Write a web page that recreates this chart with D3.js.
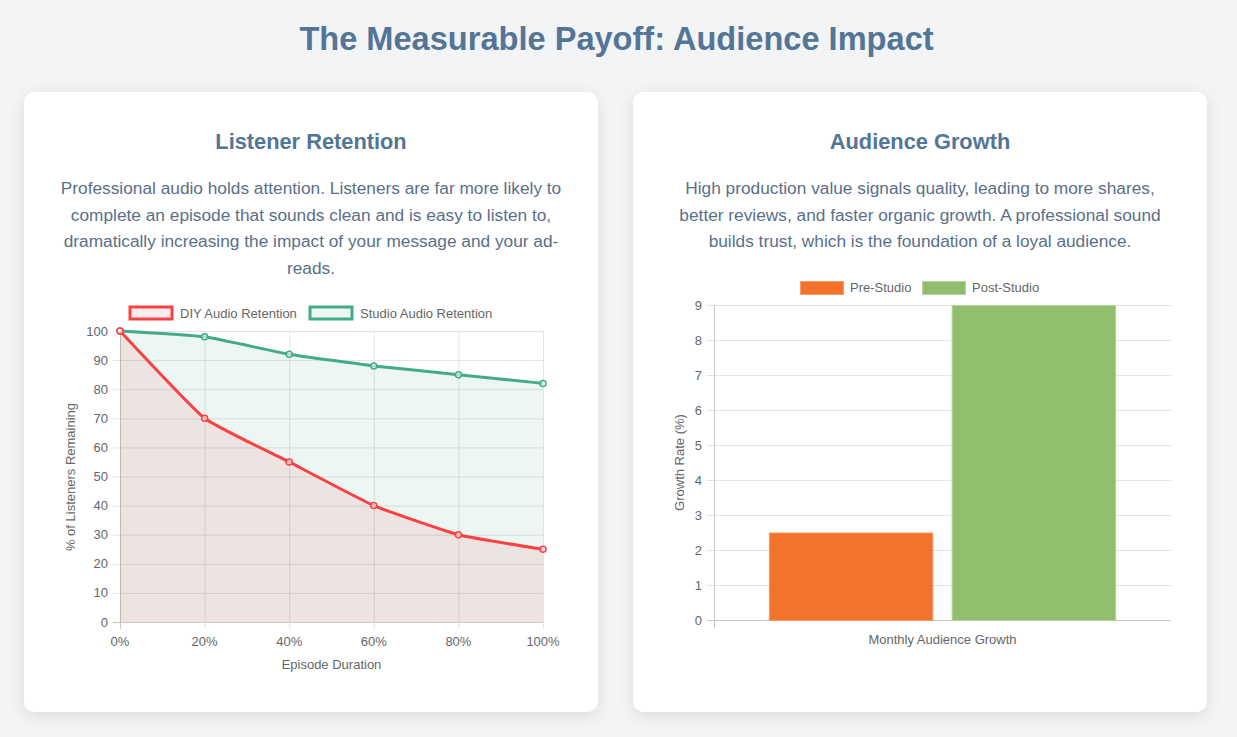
<!DOCTYPE html>
<html>
<head>
<meta charset="utf-8">
<script src="https://cdn.jsdelivr.net/npm/d3@7"></script>
<style>
  html, body { margin:0; padding:0; }
  body { width:1237px; height:737px; background:#f3f4f6; font-family:"Liberation Sans", Arial, Helvetica, sans-serif; position:relative; overflow:hidden; }
  h1 { position:absolute; left:0; width:1233px; top:20px; margin:0; text-align:center; font-size:32.6px; font-weight:bold; color:#537596; }
  .card { position:absolute; top:92px; width:574px; height:620px; background:#fff; border-radius:10px; box-shadow:0 4px 16px rgba(0,0,0,0.10); }
  .card h2 { position:absolute; left:0; width:100%; top:37px; margin:0; text-align:center; font-size:21.8px; font-weight:bold; color:#537596; }
  .card p { position:absolute; left:30px; width:514px; top:83px; margin:0; text-align:center; font-size:17.3px; line-height:26.5px; color:#5a7089; }
  svg#chart { position:absolute; left:0; top:0; }
</style>
</head>
<body>
<h1>The Measurable Payoff: Audience Impact</h1>
<div class="card" style="left:24px;">
  <h2>Listener Retention</h2>
  <p>Professional audio holds attention. Listeners are far more likely to complete an episode that sounds clean and is easy to listen to, dramatically increasing the impact of your message and your ad-reads.</p>
</div>
<div class="card" style="left:633px;">
  <h2>Audience Growth</h2>
  <p>High production value signals quality, leading to more shares, better reviews, and faster organic growth. A professional sound builds trust, which is the foundation of a loyal audience.</p>
</div>
<svg id="chart" width="1237" height="737"></svg>
<script>
// ---- data ----
const retentionLabels = ["0%", "20%", "40%", "60%", "80%", "100%"];
const diyRetention = [100, 70, 55, 40, 30, 25];
const studioRetention = [100, 98, 92, 88, 85, 82];
const retentionTicks = [0, 10, 20, 30, 40, 50, 60, 70, 80, 90, 100];
const retentionSeries = ["DIY Audio Retention", "Studio Audio Retention"];

const growthCategories = ["Monthly Audience Growth"];
const growthSeries = ["Pre-Studio", "Post-Studio"];
const growthValues = [2.5, 9];
const growthTicks = [0, 1, 2, 3, 4, 5, 6, 7, 8, 9];

// ---- styles ----
const RED = "#f94144", GREEN = "#43aa8b";
const ORANGE = "#f3722c", LGREEN = "#90be6d";
const tickColor = "#666", gridColor = "#e4e4e4", axisColor = "#c8c8c8";
const svg = d3.select("#chart");
const FONT = "Liberation Sans, Arial, Helvetica, sans-serif";
const FS = 13;

// ===== Line chart =====
{
  const x = d3.scalePoint().domain(retentionLabels).range([120, 543]);
  const y = d3.scaleLinear().domain([0, 100]).range([622, 331]);
  const g = svg.append("g");

  g.selectAll(".hg").data(retentionTicks).join("line")
    .attr("x1", 113).attr("x2", 543).attr("y1", d => y(d) + 0.5).attr("y2", d => y(d) + 0.5)
    .attr("stroke", d => d === 0 ? axisColor : gridColor).attr("stroke-width", 1);
  g.selectAll(".vg").data(retentionLabels).join("line")
    .attr("x1", d => x(d) + 0.5).attr("x2", d => x(d) + 0.5).attr("y1", 331).attr("y2", 629)
    .attr("stroke", (d, i) => i === 0 ? axisColor : gridColor).attr("stroke-width", 1);

  const pts = (vals) => vals.map((v, i) => [x(retentionLabels[i]), y(v)]);
  const curve = d3.curveCardinal.tension(0.6);
  const area = d3.area().x(d => d[0]).y0(y(0)).y1(d => d[1]).curve(curve);
  const line = d3.line().x(d => d[0]).y(d => d[1]).curve(curve);

  const sets = [
    { vals: studioRetention, color: GREEN, fill: "rgba(67,170,139,0.1)" },
    { vals: diyRetention, color: RED, fill: "rgba(249,65,68,0.1)" }
  ];
  sets.forEach(s => {
    g.append("path").attr("d", area(pts(s.vals))).attr("fill", s.fill);
  });
  sets.forEach(s => {
    g.append("path").attr("d", line(pts(s.vals))).attr("fill", "none")
      .attr("stroke", s.color).attr("stroke-width", 3);
    g.selectAll(null).data(pts(s.vals)).join("circle")
      .attr("cx", d => d[0]).attr("cy", d => d[1]).attr("r", 3)
      .attr("fill", "#fff").attr("fill-opacity", 0.6).attr("stroke", s.color).attr("stroke-width", 1.5);
  });

  g.selectAll(".yl").data(retentionTicks).join("text")
    .attr("x", 108).attr("y", d => y(d)).attr("dy", "0.35em").attr("text-anchor", "end")
    .attr("font-family", FONT).attr("font-size", FS).attr("fill", tickColor).text(d => d);
  g.selectAll(".xl").data(retentionLabels).join("text")
    .attr("x", d => x(d)).attr("y", 646).attr("text-anchor", "middle")
    .attr("font-family", FONT).attr("font-size", FS).attr("fill", tickColor).text(d => d);
  g.append("text").attr("x", 331.5).attr("y", 669).attr("text-anchor", "middle")
    .attr("font-family", FONT).attr("font-size", FS).attr("fill", tickColor).text("Episode Duration");
  g.append("text").attr("transform", "translate(75,477) rotate(-90)").attr("text-anchor", "middle")
    .attr("font-family", FONT).attr("font-size", FS).attr("fill", tickColor).text("% of Listeners Remaining");

  const leg = [
    { name: retentionSeries[0], color: RED, fill: "rgba(249,65,68,0.1)", x: 130 },
    { name: retentionSeries[1], color: GREEN, fill: "rgba(67,170,139,0.1)", x: 310 }
  ];
  leg.forEach(l => {
    g.append("rect").attr("x", l.x).attr("y", 307).attr("width", 42).attr("height", 12)
      .attr("fill", l.fill).attr("stroke", l.color).attr("stroke-width", 3);
    g.append("text").attr("x", l.x + 50).attr("y", 317.5).attr("font-family", FONT)
      .attr("font-size", FS).attr("fill", tickColor).text(l.name);
  });
}

// ===== Bar chart =====
{
  const x0 = d3.scaleBand().domain(growthCategories).range([714, 1171]).paddingInner(0).paddingOuter(0);
  const x1 = d3.scaleBand().domain(growthSeries).range([0, x0.bandwidth()]).paddingInner(0.1).paddingOuter(0.3);
  const y = d3.scaleLinear().domain([0, 9]).range([620, 305]);
  const g = svg.append("g");

  g.selectAll(".hg").data(growthTicks).join("line")
    .attr("x1", 707).attr("x2", 1171).attr("y1", d => y(d) + 0.5).attr("y2", d => y(d) + 0.5)
    .attr("stroke", d => d === 0 ? axisColor : gridColor);
  g.append("line").attr("x1", 714.5).attr("x2", 714.5).attr("y1", 305).attr("y2", 628).attr("stroke", axisColor);

  const colors = [ORANGE, LGREEN];
  const borders = ["#f79a66", "#b3d49b"];
  growthCategories.forEach(cat => {
    g.selectAll(null).data(growthValues).join("rect")
      .attr("x", (d, i) => x0(cat) + x1(growthSeries[i]) + 0.5)
      .attr("y", d => y(d) + 0.5)
      .attr("width", x1.bandwidth() - 1)
      .attr("height", d => y(0) - y(d))
      .attr("fill", (d, i) => colors[i]).attr("stroke", (d, i) => borders[i]).attr("stroke-width", 1);
  });

  g.selectAll(".yl").data(growthTicks).join("text")
    .attr("x", 702).attr("y", d => y(d)).attr("dy", "0.35em").attr("text-anchor", "end")
    .attr("font-family", FONT).attr("font-size", FS).attr("fill", tickColor).text(d => d);
  g.selectAll(".xl").data(growthCategories).join("text")
    .attr("x", d => x0(d) + x0.bandwidth() / 2).attr("y", 644).attr("text-anchor", "middle")
    .attr("font-family", FONT).attr("font-size", FS).attr("fill", tickColor).text(d => d);
  g.append("text").attr("transform", "translate(684,462.5) rotate(-90)").attr("text-anchor", "middle")
    .attr("font-family", FONT).attr("font-size", FS).attr("fill", tickColor).text("Growth Rate (%)");

  const leg = [{ name: growthSeries[0], x: 800 }, { name: growthSeries[1], x: 922 }];
  leg.forEach((l, i) => {
    g.append("rect").attr("x", l.x + 0.5).attr("y", 281.5).attr("width", 43).attr("height", 13)
      .attr("fill", colors[i]).attr("stroke", borders[i]).attr("stroke-width", 1);
    g.append("text").attr("x", l.x + 50).attr("y", 292).attr("font-family", FONT)
      .attr("font-size", FS).attr("fill", tickColor).text(l.name);
  });
}
</script>
</body>
</html>
